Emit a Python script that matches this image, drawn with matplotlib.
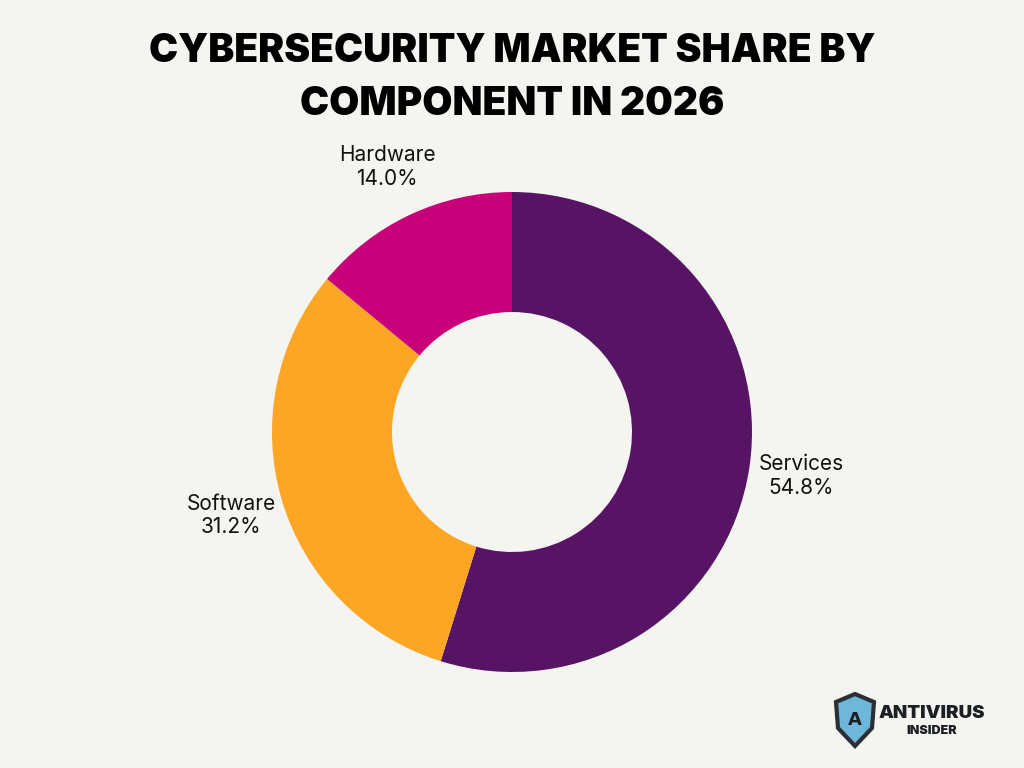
import matplotlib.pyplot as plt
from matplotlib.patches import Polygon

COMPONENTS = ["Services", "Software", "Hardware"]
SHARES = [54.8, 31.2, 14.0]
COLORS = ["#571464", "#FCA624", "#C8007A"]
TITLE = "CYBERSECURITY MARKET SHARE BY\nCOMPONENT IN 2026"
BG = "#F4F4F0"

fig = plt.figure(figsize=(10.24, 7.68), dpi=100, facecolor=BG)

# donut: centre (512, 432) px, outer radius 240 px
ax = fig.add_axes([272 / 1024, 96 / 768, 480 / 1024, 480 / 768])
ax.set_facecolor(BG)
labels = [f"{n}\n{v:.1f}%" for n, v in zip(COMPONENTS, SHARES)]
wedges, texts = ax.pie(SHARES, colors=COLORS, startangle=90, counterclock=False,
                       radius=1.0, labels=labels, labeldistance=1.22,
                       wedgeprops=dict(width=0.5, linewidth=0),
                       textprops=dict(fontsize=15, family="Inter", color="#111111",
                                      linespacing=1.2))
for t in texts:
    t.set_horizontalalignment("center")
    t.set_verticalalignment("center")
ax.set_xlim(-1, 1)
ax.set_ylim(-1, 1)
ax.set_aspect("equal")
ax.axis("off")

fig.text(0.5, 0.899, TITLE, ha="center", va="center", fontsize=28,
         family="Inter", fontweight="black", color="black", linespacing=1.55)

# logo, bottom right
lax = fig.add_axes([830 / 1024, 18 / 768, 170 / 1024, 60 / 768])
lax.set_xlim(0, 170)
lax.set_ylim(0, 60)
lax.axis("off")
shield = Polygon([(6, 48), (25, 56), (44, 48), (42, 22), (25, 4), (8, 22)],
                 closed=True, fc="#6FB7DA", ec="#2B2F36", lw=3)
lax.add_patch(shield)
lax.text(25, 30, "A", ha="center", va="center", fontsize=13, fontweight="black",
         family="DejaVu Sans", color="#1C1F24")
lax.text(102, 37, "ANTIVIRUS", ha="center", va="center", fontsize=13.5,
         fontweight="black", family="Inter", color="#1C1F24")
lax.text(102, 19, "INSIDER", ha="center", va="center", fontsize=9,
         fontweight="black", family="Inter", color="#1C1F24")

fig.savefig("out.png", dpi=100, facecolor=BG)
